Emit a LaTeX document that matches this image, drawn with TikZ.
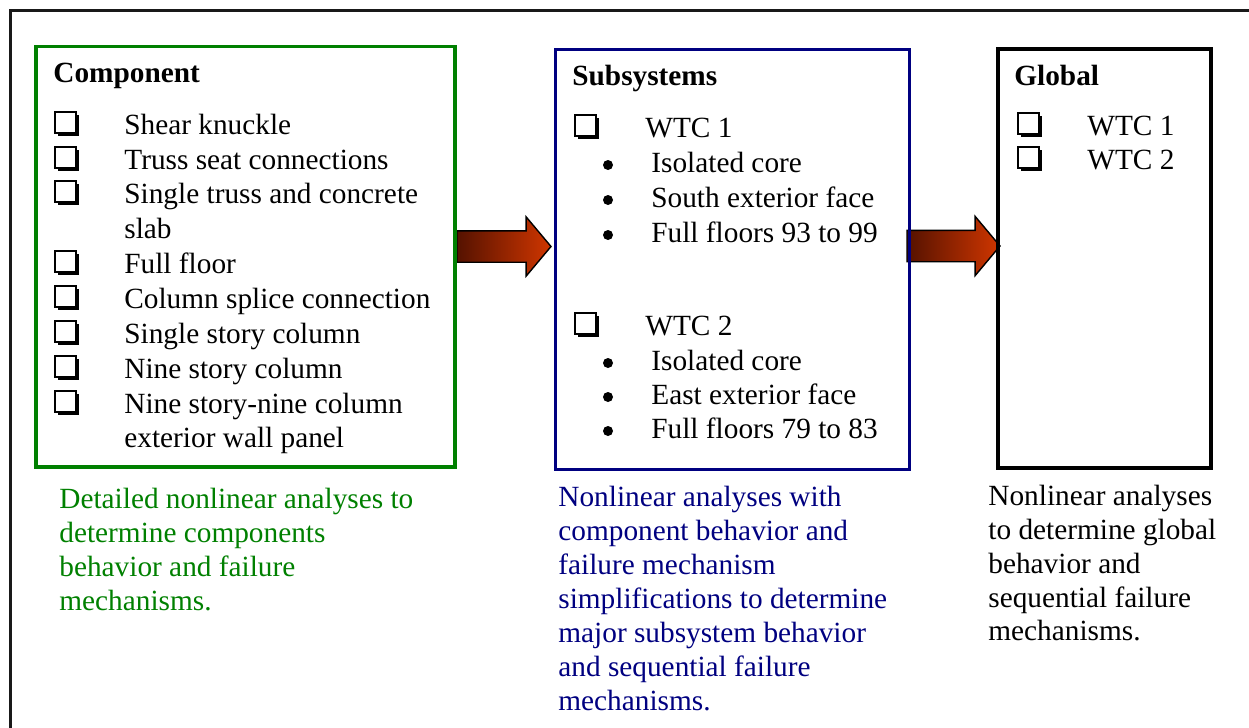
\documentclass[tikz,border=0pt]{standalone}
\usepackage{fontspec}
\setmainfont{Liberation Serif}
\usetikzlibrary{shapes.arrows,shadows}
\definecolor{cgreen}{RGB}{0,128,0}
\definecolor{cnavy}{RGB}{0,0,128}
\definecolor{adark}{RGB}{85,18,0}
\definecolor{alight}{RGB}{208,54,0}
\begin{document}
\begin{tikzpicture}[x=0.5pt,y=-0.5pt,
  txt/.style={anchor=base west, inner sep=0pt, font=\fontsize{14.65pt}{17.35pt}\selectfont},
  hd/.style={anchor=base west, inner sep=0pt, font=\fontsize{14.65pt}{17.35pt}\selectfont\bfseries},
  cbox/.style={draw=black, fill=white, line width=1pt, minimum size=10.5pt, inner sep=0pt, outer sep=0pt,
    drop shadow={shadow xshift=1.5pt, shadow yshift=-1.5pt, opacity=1, fill=black}},
  bul/.style={circle, fill=black, inner sep=0pt, minimum size=5pt},
  bigarrow/.style={single arrow, draw=black, line width=0.7pt, outer sep=0pt,
    left color=adark, right color=alight, minimum width=29pt,
    inner xsep=0pt, inner ysep=7.5pt, single arrow head extend=7pt,
    single arrow tip angle=100},
  panel/.style={draw, line width=1.7pt, inner sep=0pt, outer sep=0pt}
]
\useasboundingbox (0,0) rectangle (1249,728);
% outer frame
\draw[line width=1.25pt, black!90] (10.5,728) -- (10.5,10.5) -- (1249,10.5);

% arrows (drawn beneath panels)
\node[bigarrow, anchor=tail, minimum height=47pt] (ar1) at (457,246.5) {};
\node[bigarrow, anchor=tail, minimum height=46.5pt] (ar2) at (907,246) {};

% panels
\node[panel, draw=cgreen, minimum width=209.5pt, minimum height=210.25pt] (comp) at (245.5,256.75) {};
\node[panel, draw=cnavy, line width=1.5pt, minimum width=177pt, minimum height=210pt] (sub) at (732,259) {};
\node[panel, draw=black, minimum width=106.5pt, minimum height=209.5pt] (glob) at (1104.5,258.5) {};

% Component
\node[hd] (compH) at (53,83) {Component};
\foreach \y/\t [count=\i] in {134/Shear knuckle, 169/Truss seat connections, 203.5/Single truss and concrete,
  273/Full floor, 308/Column splice connection, 343/Single story column, 378/Nine story column,
  413/Nine story-nine column}{
  \node[cbox] (cb\i) at (65,\y-12) {};
  \node[txt] (ct\i) at (124,\y) {\t};
}
\node[txt] (ctslab) at (124,238) {slab};
\node[txt] (ctwall) at (124,447) {exterior wall panel};

% Subsystems
\node[hd] (subH) at (572,85) {Subsystems};
\node[cbox] (sb1) at (585,125) {};
\node[txt] (sw1) at (645,137) {WTC 1};
\foreach \y/\t [count=\i] in {172/Isolated core, 207/South exterior face, 242/Full floors 93 to 99}{
  \node[bul] (sa\i) at (608,\y-7) {};
  \node[txt] (st\i) at (651,\y) {\t};
}
\node[cbox] (sb2) at (585,323) {};
\node[txt] (sw2) at (645,335) {WTC 2};
\foreach \y/\t [count=\i] in {370/Isolated core, 404/East exterior face, 438/Full floors 79 to 83}{
  \node[bul] (sc\i) at (608,\y-7) {};
  \node[txt] (su\i) at (651,\y) {\t};
}

% Global
\node[hd] (globH) at (1014,85) {Global};
\node[cbox] (gb1) at (1028,123) {};
\node[txt] (gw1) at (1087,135) {WTC 1};
\node[cbox] (gb2) at (1028,157) {};
\node[txt] (gw2) at (1087,169) {WTC 2};

% captions
\foreach \y/\t [count=\i] in {508/Detailed nonlinear analyses to, 542/determine components,
  576/behavior and failure, 610/mechanisms.}{
  \node[txt, text=cgreen] (gc\i) at (59,\y) {\t};
}
\foreach \y/\t [count=\i] in {506/Nonlinear analyses with, 540/component behavior and,
  574/failure mechanism, 608/simplifications to determine, 642/major subsystem behavior,
  676/and sequential failure, 710/mechanisms.}{
  \node[txt, text=cnavy] (bc\i) at (558,\y) {\t};
}
\foreach \y/\t [count=\i] in {505/Nonlinear analyses, 539/to determine global,
  573/behavior and, 607/sequential failure, 640/mechanisms.}{
  \node[txt] (kc\i) at (988,\y) {\t};
}
\end{tikzpicture}
\end{document}
